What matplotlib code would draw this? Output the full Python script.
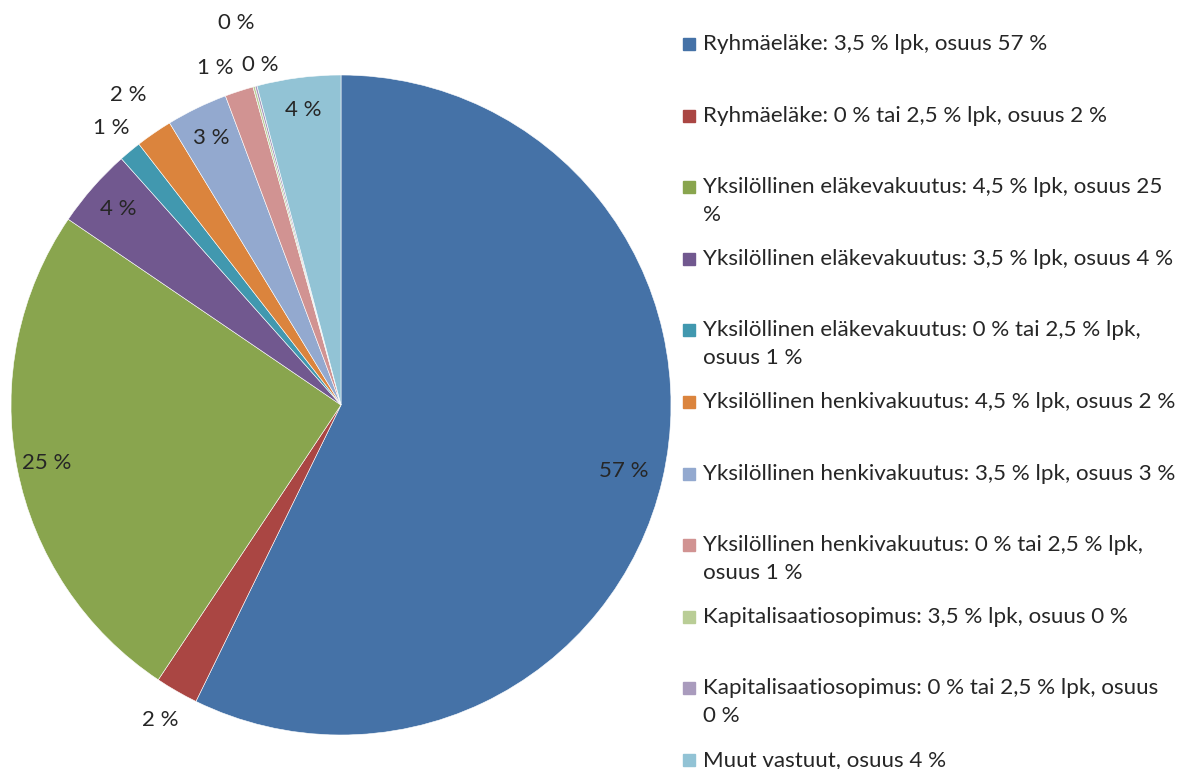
import numpy as np
import matplotlib.pyplot as plt

# Pie shares (%), clockwise from 12 o'clock
labels = [
    "Ryhmäeläke: 3,5 % lpk, osuus 57 %",
    "Ryhmäeläke: 0 % tai 2,5 % lpk, osuus 2 %",
    "Yksilöllinen eläkevakuutus: 4,5 % lpk, osuus 25\n%",
    "Yksilöllinen eläkevakuutus: 3,5 % lpk, osuus 4 %",
    "Yksilöllinen eläkevakuutus: 0 % tai 2,5 % lpk,\nosuus 1 %",
    "Yksilöllinen henkivakuutus: 4,5 % lpk, osuus 2 %",
    "Yksilöllinen henkivakuutus: 3,5 % lpk, osuus 3 %",
    "Yksilöllinen henkivakuutus: 0 % tai 2,5 % lpk,\nosuus 1 %",
    "Kapitalisaatiosopimus: 3,5 % lpk, osuus 0 %",
    "Kapitalisaatiosopimus: 0 % tai 2,5 % lpk, osuus\n0 %",
    "Muut vastuut, osuus 4 %",
]
shares = [57.3, 2.1, 25.2, 3.9, 1.1, 1.8, 3.0, 1.4, 0.1, 0.1, 4.1]
colors = ["#4572A7", "#AA4643", "#89A54E", "#71588F", "#4198AF", "#DB843D",
          "#93A9CF", "#D19392", "#B9CD96", "#A99BBD", "#92C3D5"]

# radial position of each percentage label (1 = pie edge)
label_r = [0.88, 1.1, 0.91, 0.9, 1.09, 1.14, 0.9, 1.09, 1.2, 1.06, 0.9]
label_dang = [0, 0, 0, 0, 0, 0, 0, 2.5, 0, -1.5, 0]

W, H = 1202, 769
fig = plt.figure(figsize=(W / 100, H / 100), dpi=100)
cx, cy, R = 341, 405, 330
ax = fig.add_axes([(cx - R) / W, (H - cy - R) / H, 2 * R / W, 2 * R / H])

font = "Lato"
wedges, _ = ax.pie(shares, colors=colors, startangle=90, counterclock=False,
                   radius=1, wedgeprops=dict(edgecolor="white", linewidth=0.4))
ax.set_xlim(-1, 1)
ax.set_ylim(-1, 1)
ax.axis("off")

total = sum(shares)
for w, v, r, d in zip(wedges, shares, label_r, label_dang):
    ang = np.deg2rad((w.theta1 + w.theta2) / 2 + d)
    ax.text(r * np.cos(ang), r * np.sin(ang), f"{100 * v / total:.0f} %",
            ha="center", va="center", fontsize=16, family=font,
            color="#262626", clip_on=False)

# legend drawn by hand to match the spaced-out Excel layout
y0, step, lh = 44, 71.6, 28
for i, (lab, c) in enumerate(zip(labels, colors)):
    y = y0 + step * i
    fig.patches.append(plt.Rectangle((683 / W, 1 - (y + 6) / H), 12 / W, 12 / H,
                                     transform=fig.transFigure, color=c))
    for j, line in enumerate(lab.split("\n")):
        fig.text(703 / W, 1 - (y + lh * j) / H, line, ha="left", va="center",
                 fontsize=16.1, family=font, color="#262626")

fig.savefig("out.png", dpi=100)
